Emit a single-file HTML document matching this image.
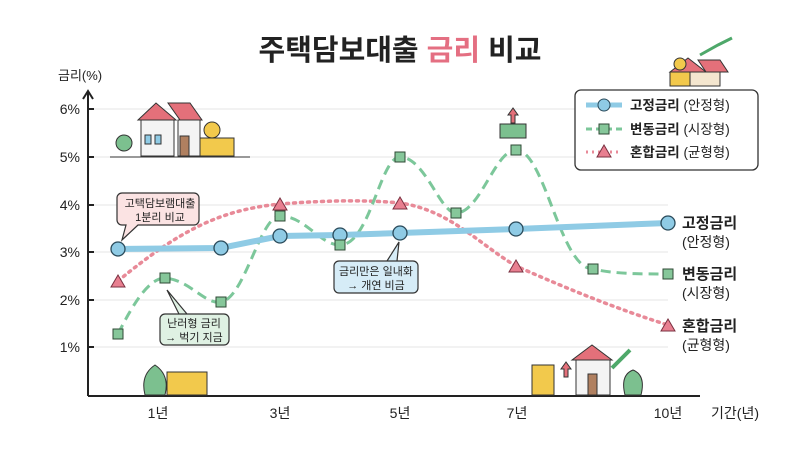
<!DOCTYPE html><html><head><meta charset="utf-8"><style>
body{margin:0;background:#fff;}
svg text{font-family:"Liberation Sans","Noto Sans CJK KR",sans-serif;}
</style></head><body>
<svg width="800" height="446" viewBox="0 0 800 446" xmlns="http://www.w3.org/2000/svg">
<rect width="800" height="446" fill="#fff"/>
<text x="400" y="60" text-anchor="middle" font-size="29" font-weight="bold" fill="#222">주택담보대출 <tspan fill="#e46f82">금리</tspan> 비교</text>
<text x="58" y="80" font-size="13" fill="#222">금리(%)</text>
<g stroke="#e4e4e4" stroke-width="1">
<line x1="88" y1="109" x2="668" y2="109"/><line x1="88" y1="157" x2="668" y2="157"/><line x1="88" y1="205" x2="668" y2="205"/><line x1="88" y1="252" x2="668" y2="252"/><line x1="88" y1="300" x2="668" y2="300"/><line x1="88" y1="347" x2="668" y2="347"/></g>
<g stroke="#222" stroke-width="2"><line x1="88" y1="92" x2="88" y2="396"/><line x1="88" y1="396" x2="700" y2="396"/>
<path d="M83,99 L88,91 L93,99" fill="none"/>
<line x1="88" y1="109" x2="94" y2="109"/><line x1="88" y1="157" x2="94" y2="157"/><line x1="88" y1="205" x2="94" y2="205"/><line x1="88" y1="252" x2="94" y2="252"/><line x1="88" y1="300" x2="94" y2="300"/><line x1="88" y1="347" x2="94" y2="347"/></g>
<g font-size="14" fill="#222" text-anchor="end"><text x="80" y="114">6%</text><text x="80" y="162">5%</text><text x="80" y="210">4%</text><text x="80" y="257">3%</text><text x="80" y="305">2%</text><text x="80" y="352">1%</text></g>
<g font-size="14" fill="#222" text-anchor="middle"><text x="158" y="418">1년</text><text x="280" y="418">3년</text><text x="400" y="418">5년</text><text x="517" y="418">7년</text><text x="668" y="418">10년</text><text x="735" y="418">기간(년)</text></g>
<!-- mixed -->
<path d="M118,281 C180,230 220,210 280,204 C330,200 370,200 400,203 C450,210 480,245 516,266 C570,290 620,310 668,325" fill="none" stroke="#e88a98" stroke-width="3.5" stroke-dasharray="2 5" stroke-linecap="round"/>
<!-- variable -->
<path d="M118,334 C135,300 150,278 165,278 C190,280 205,305 221,302 C245,298 260,216 280,216 C305,216 320,245 340,245 C370,245 380,157 400,157 C425,157 440,213 456,213 C480,213 495,150 516,150 C545,150 560,269 593,269 C615,274 640,274 668,274" fill="none" stroke="#7cc79a" stroke-width="3" stroke-dasharray="10 6"/>
<!-- fixed -->
<polyline points="118,249 221,248 280,236 340,235 400,233 516,229 668,223" fill="none" stroke="#8fcbe5" stroke-width="6" stroke-linecap="round"/>
<g fill="#8fcbe5" stroke="#2a4a5a" stroke-width="1.3"><circle cx="118" cy="249" r="7"/><circle cx="221" cy="248" r="7"/><circle cx="280" cy="236" r="7"/><circle cx="340" cy="235" r="7"/><circle cx="400" cy="233" r="7"/><circle cx="516" cy="229" r="7"/><circle cx="668" cy="223" r="7"/></g>
<g fill="#86c79a" stroke="#2f4a35" stroke-width="1"><rect x="113" y="329" width="10" height="10"/><rect x="160" y="273" width="10" height="10"/><rect x="216" y="297" width="10" height="10"/><rect x="275" y="211" width="10" height="10"/><rect x="335" y="240" width="10" height="10"/><rect x="395" y="152" width="10" height="10"/><rect x="451" y="208" width="10" height="10"/><rect x="511" y="145" width="10" height="10"/><rect x="588" y="264" width="10" height="10"/><rect x="663" y="269" width="10" height="10"/></g>
<g fill="#e87f90" stroke="#7a3040" stroke-width="1"><path d="M118,275 l-7,12 h14z"/><path d="M280,198 l-7,12 h14z"/><path d="M400,197 l-7,12 h14z"/><path d="M516,260 l-7,12 h14z"/><path d="M668,319 l-7,12 h14z"/></g>
<!-- callouts -->
<path d="M122,193 h72 a5,5 0 0 1 5,5 v22 a5,5 0 0 1 -5,5 h-56 l-16,15 l4,-15 h-4 a5,5 0 0 1 -5,-5 v-22 a5,5 0 0 1 5,-5z" fill="#fbe3e3" stroke="#333" stroke-width="1.2"/>
<text x="160" y="207" font-size="11" text-anchor="middle" fill="#222">고택담보램대출</text><text x="160" y="221" font-size="11" text-anchor="middle" fill="#222">1분리 비교</text>
<path d="M165,314 h59 a5,5 0 0 1 5,5 v21 a5,5 0 0 1 -5,5 h-59 a5,5 0 0 1 -5,-5 v-21 a5,5 0 0 1 5,-5 h14 l-12,-24 l20,24z" fill="#dff1e3" stroke="#333" stroke-width="1.2"/>
<text x="194" y="327" font-size="11" text-anchor="middle" fill="#222">난러형 금리</text><text x="194" y="341" font-size="11" text-anchor="middle" fill="#222">→ 벅기 지금</text>
<path d="M339,261 h74 a5,5 0 0 1 5,5 v22 a5,5 0 0 1 -5,5 h-74 a5,5 0 0 1 -5,-5 v-22 a5,5 0 0 1 5,-5 h48 l12,-19 l-2,19z" fill="#d6ecf7" stroke="#333" stroke-width="1.2"/>
<text x="376" y="275" font-size="11" text-anchor="middle" fill="#222">금리만은 일내화</text><text x="376" y="289" font-size="11" text-anchor="middle" fill="#222">→ 개연 비금</text>
<!-- legend -->
<rect x="575" y="90" width="183" height="80" rx="6" fill="#fff" stroke="#333" stroke-width="1.3"/>
<line x1="586" y1="105" x2="622" y2="105" stroke="#8fcbe5" stroke-width="5"/><circle cx="604" cy="105" r="6" fill="#8fcbe5" stroke="#2a4a5a"/>
<line x1="586" y1="129" x2="622" y2="129" stroke="#7cc79a" stroke-width="3" stroke-dasharray="6 4"/><rect x="599" y="124" width="10" height="10" fill="#86c79a" stroke="#2f4a35"/>
<line x1="586" y1="152" x2="622" y2="152" stroke="#e88a98" stroke-width="3" stroke-dasharray="2 4"/><path d="M604,145 l-7,12 h14z" fill="#e87f90" stroke="#7a3040"/>
<g font-size="13.5" fill="#222"><text x="630" y="110"><tspan font-weight="bold">고정금리</tspan> (안정형)</text><text x="630" y="134"><tspan font-weight="bold">변동금리</tspan> (시장형)</text><text x="630" y="157"><tspan font-weight="bold">혼합금리</tspan> (균형형)</text></g>
<g font-size="15" fill="#222"><text x="682" y="228" font-weight="bold">고정금리</text><text x="682" y="247" font-size="14">(안정형)</text>
<text x="682" y="279" font-weight="bold">변동금리</text><text x="682" y="298" font-size="14">(시장형)</text>
<text x="682" y="331" font-weight="bold">혼합금리</text><text x="682" y="350" font-size="14">(균형형)</text></g>
<!-- illustrations -->
<g stroke="#333" stroke-width="1"><line x1="110" y1="157" x2="250" y2="157"/>
<circle cx="124" cy="143" r="8" fill="#7cc08f"/><path d="M138,120 L156,103 L176,120z" fill="#e4707a"/><rect x="141" y="120" width="33" height="36" fill="#f4f4f4"/><rect x="180" y="136" width="10" height="20" fill="#b08060"/><path d="M168,103 L190,103 L202,120 L180,120z" fill="#e4707a"/><rect x="178" y="120" width="22" height="36" fill="#f4f4f4"/><rect x="180" y="136" width="9" height="20" fill="#b08060"/><rect x="145" y="135" width="6" height="9" fill="#8fcbe5"/><rect x="155" y="135" width="6" height="9" fill="#8fcbe5"/>
<rect x="200" y="138" width="34" height="18" fill="#f2c94c"/><circle cx="212" cy="130" r="8" fill="#f2c94c"/></g>
<g stroke="#333" stroke-width="1"><path d="M670,72 L688,58 L706,72z" fill="#e4707a"/><rect x="690" y="72" width="30" height="14" fill="#f4e6cf"/><path d="M698,60 L720,60 L728,72 L706,72z" fill="#e4707a"/><rect x="670" y="72" width="20" height="14" fill="#f2c94c"/><circle cx="680" cy="64" r="6" fill="#f2c94c"/><path d="M700,55 L718,45 L732,38" fill="none" stroke="#4ea86a" stroke-width="3"/></g>
<g stroke="#333" stroke-width="1"><rect x="500" y="124" width="26" height="14" fill="#7cc08f"/><path d="M513,108 l-5,7 h3 v8 h4 v-8 h3z" fill="#e4707a"/></g>
<g stroke="#333" stroke-width="1"><path d="M145,395 q-5,-20 10,-30 q15,10 10,30z" fill="#7cc08f"/><rect x="167" y="372" width="40" height="23" fill="#f2c94c"/></g>
<g stroke="#333" stroke-width="1"><rect x="532" y="365" width="22" height="30" fill="#f2c94c"/><path d="M572,360 L592,345 L612,360z" fill="#e4707a"/><rect x="576" y="360" width="34" height="35" fill="#f4f4f4"/><rect x="588" y="374" width="9" height="21" fill="#b08060"/><path d="M612,368 L630,350" stroke="#4ea86a" stroke-width="4"/><path d="M625,395 q-5,-20 8,-25 q13,5 8,25z" fill="#7cc08f"/><path d="M566,362 l-5,7 h3 v8 h4 v-8 h3z" fill="#e4707a"/></g>
</svg>
</body></html>
